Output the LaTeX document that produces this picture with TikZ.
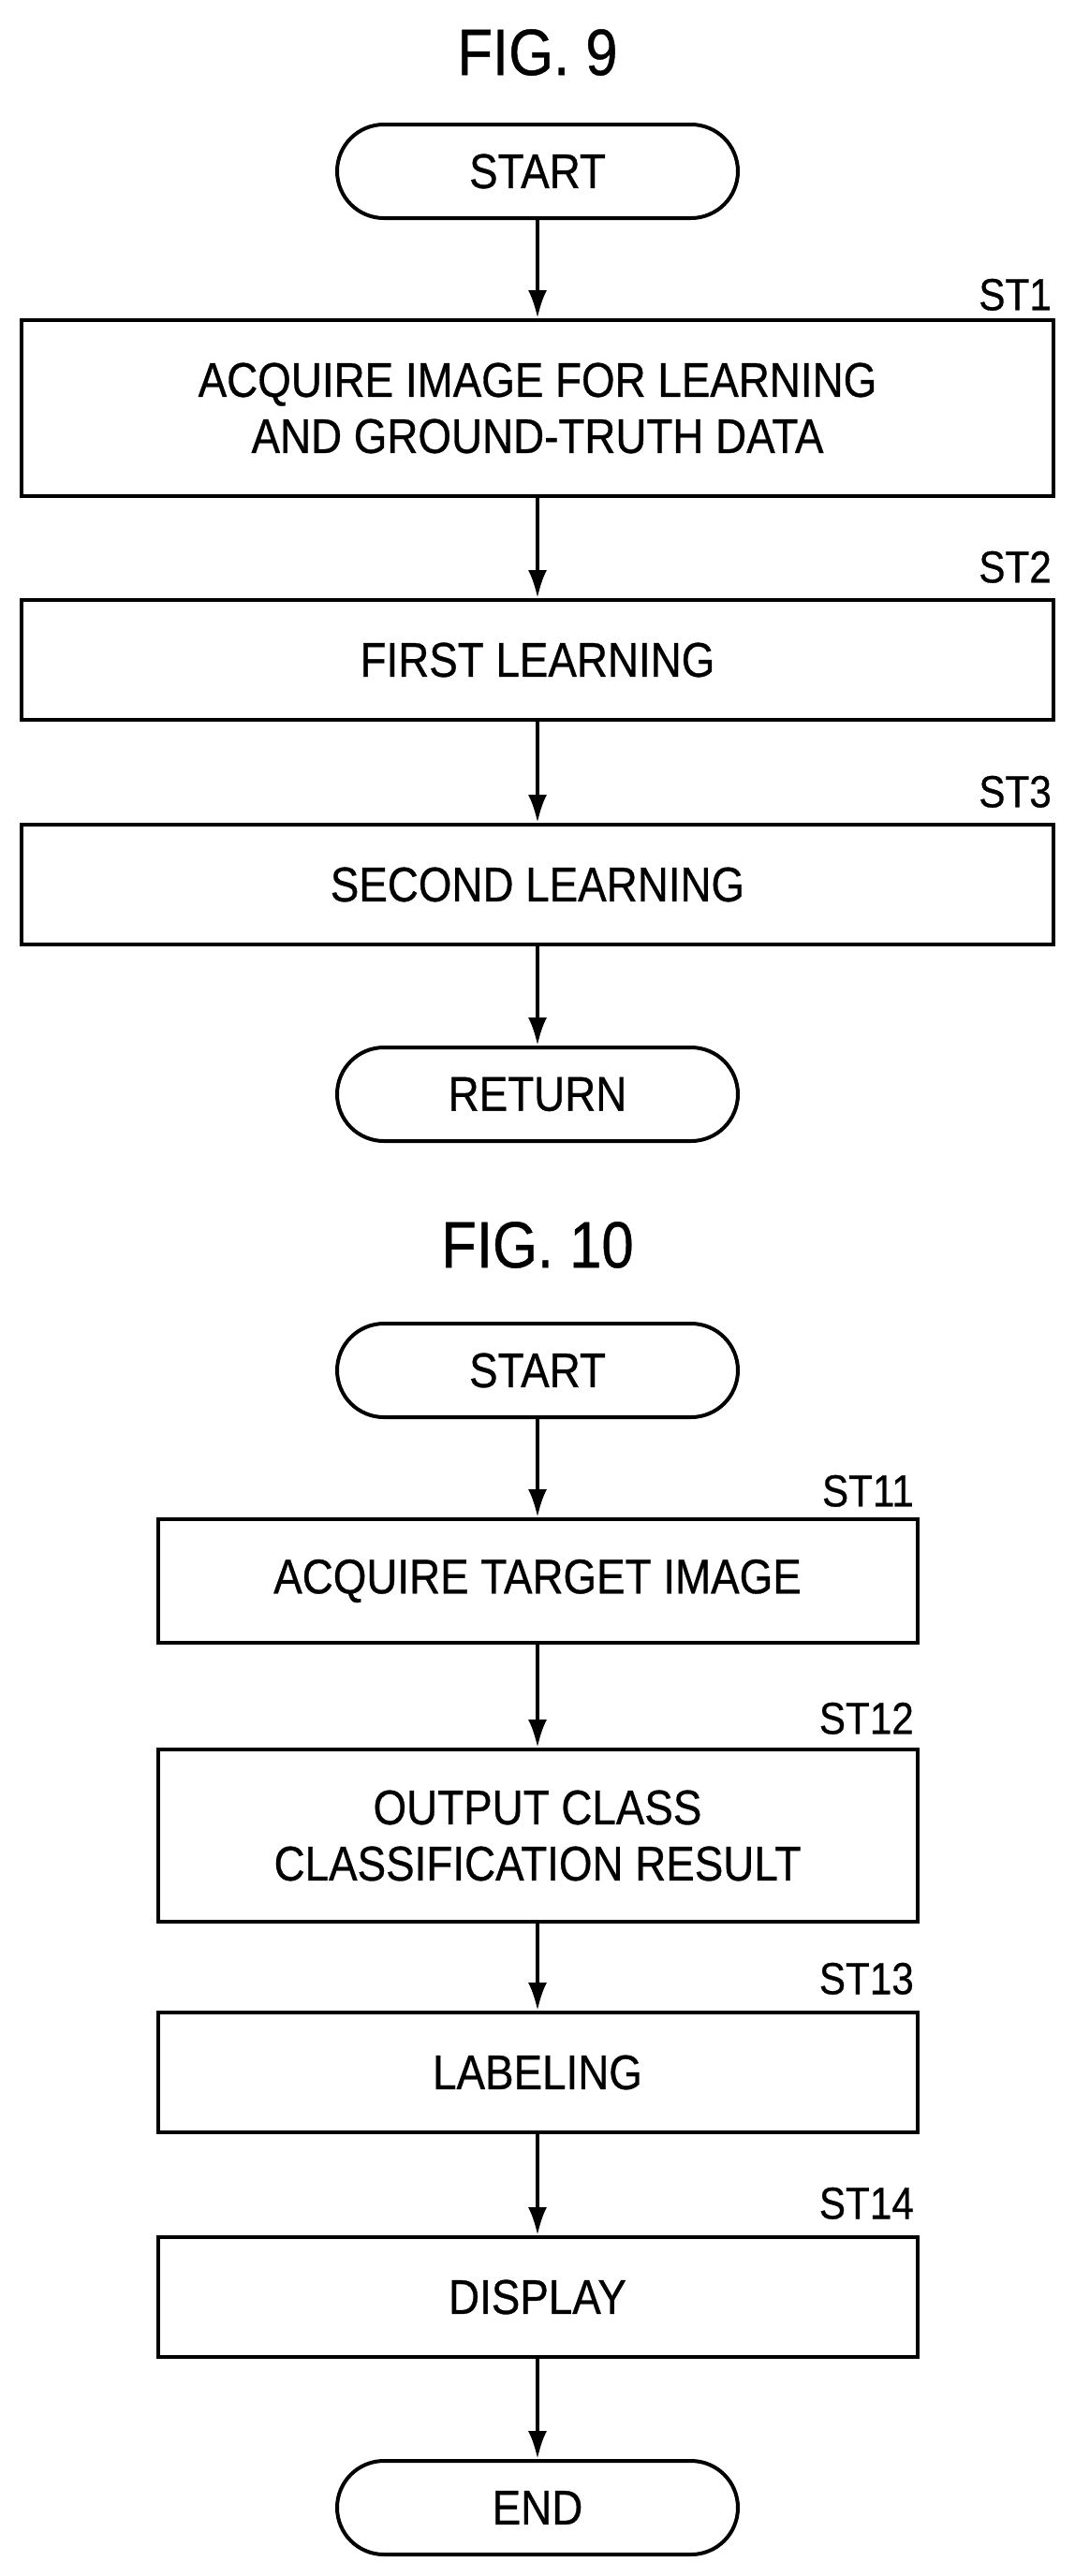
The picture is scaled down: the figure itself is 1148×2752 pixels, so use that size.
\documentclass[tikz,border=0pt]{standalone}
\usepackage{fontspec}
\setmainfont{Liberation Sans}[FakeStretch=0.88,FakeBold=0.6]
\usetikzlibrary{arrows.meta}
\begin{document}
\begin{tikzpicture}[x=1pt,y=-1pt,
  box/.style={draw,line width=4pt,minimum width=1102pt,align=center,font=\fontsize{52}{60}\selectfont},
  sbox/.style={draw,line width=4pt,minimum width=811pt,align=center,font=\fontsize{52}{60}\selectfont},
  term/.style={draw,line width=4pt,rounded corners=50pt,minimum width=428pt,minimum height=100pt,font=\fontsize{52}{60}\selectfont},
  lab/.style={font=\fontsize{48}{54}\selectfont,anchor=south east,inner sep=0pt},
  title/.style={font=\fontsize{70}{76}\selectfont},
  arr/.style={line width=4pt,-{Latex[length=30pt,width=20pt]}}]
\useasboundingbox (0,0) rectangle (1148,2752);
\node[title] (t9) at (574,56) {FIG. 9};
\node[term] (s1) at (574,183) {START};
\node[box,minimum height=188pt] (b1) at (574,436) {ACQUIRE IMAGE FOR LEARNING\\AND GROUND-TRUTH DATA};
\node[lab] (l1) at (1123,332) {ST1};
\node[box,minimum height=128pt] (b2) at (574,705) {FIRST LEARNING};
\node[lab] (l2) at (1123,623) {ST2};
\node[box,minimum height=128pt] (b3) at (574,945) {SECOND LEARNING};
\node[lab] (l3) at (1123,863) {ST3};
\node[term] (r1) at (574,1169) {RETURN};
\draw[arr] (s1) -- (b1);
\draw[arr] (b1) -- (b2);
\draw[arr] (b2) -- (b3);
\draw[arr] (b3) -- (r1);
\node[title] (t10) at (574,1330) {FIG. 10};
\node[term] (s2) at (574,1464) {START};
\node[sbox,minimum height=132pt] (c1) at (574,1689) {ACQUIRE TARGET IMAGE};
\node[lab] (m1) at (976,1610) {ST11};
\node[sbox,minimum height=184pt] (c2) at (574,1961) {OUTPUT CLASS\\CLASSIFICATION RESULT};
\node[lab] (m2) at (976,1853) {ST12};
\node[sbox,minimum height=128pt] (c3) at (574,2214) {LABELING};
\node[lab] (m3) at (976,2131) {ST13};
\node[sbox,minimum height=128pt] (c4) at (574,2454) {DISPLAY};
\node[lab] (m4) at (976,2371) {ST14};
\node[term] (e1) at (574,2679) {END};
\draw[arr] (s2) -- (c1);
\draw[arr] (c1) -- (c2);
\draw[arr] (c2) -- (c3);
\draw[arr] (c3) -- (c4);
\draw[arr] (c4) -- (e1);
\end{tikzpicture}
\end{document}
